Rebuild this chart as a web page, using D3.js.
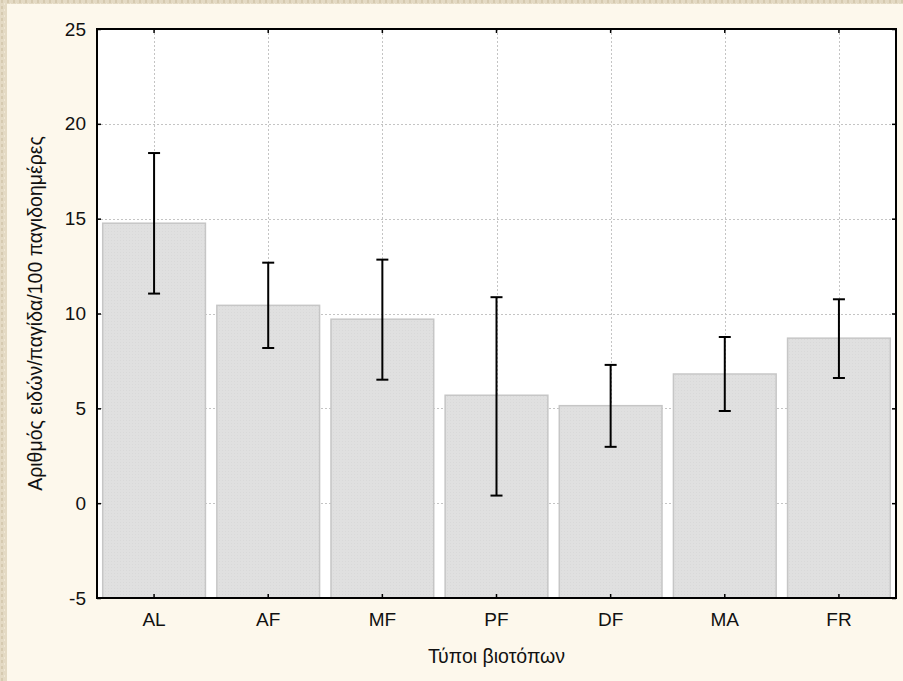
<!DOCTYPE html>
<html>
<head>
<meta charset="utf-8">
<script src="https://cdn.jsdelivr.net/npm/d3@7"></script>
<style>
  html, body { margin: 0; padding: 0; background: #fdf8ec; }
  svg { display: block; }
  text { font-family: "Liberation Sans", Arial, sans-serif; fill: #111; }
</style>
</head>
<body>
<svg id="chart" width="903" height="681"></svg>
<script>
// Habitat types
const categories = ["AL", "AF", "MF", "PF", "DF", "MA", "FR"];
// Mean number of species per trap per 100 trap-days
const means = [14.76, 10.43, 9.70, 5.69, 5.14, 6.81, 8.70];
// Confidence interval bounds
const lower = [11.05, 8.18, 6.51, 0.40, 2.97, 4.86, 6.60];
const upper = [18.46, 12.68, 12.84, 10.86, 7.29, 8.76, 10.75];
const yTicks = [-5, 0, 5, 10, 15, 20, 25];

const svg = d3.select("#chart");
const W = 903, H = 681;
const m = { left: 97, top: 29, right: 896, bottom: 598 };

// textured paper edge
const defs = svg.append("defs");
const pat = defs.append("pattern").attr("id", "paper")
  .attr("width", 6).attr("height", 6).attr("patternUnits", "userSpaceOnUse");
pat.append("rect").attr("width", 6).attr("height", 6).attr("fill", "#e4dac4");
pat.append("rect").attr("x", 1).attr("y", 0).attr("width", 2).attr("height", 3).attr("fill", "#d6cab0");
pat.append("rect").attr("x", 4).attr("y", 3).attr("width", 1).attr("height", 2).attr("fill", "#efe7d4");

const hatch = defs.append("pattern").attr("id", "hatch")
  .attr("width", 3).attr("height", 3).attr("patternUnits", "userSpaceOnUse");
hatch.append("rect").attr("width", 3).attr("height", 3).attr("fill", "#e0e0e0");
hatch.append("rect").attr("width", 1).attr("height", 1).attr("fill", "#d9d9d9");

svg.append("rect").attr("width", W).attr("height", H).attr("fill", "#fdf8ec");
svg.append("rect").attr("x", 0).attr("y", 0).attr("width", 7).attr("height", H).attr("fill", "url(#paper)");
svg.append("rect").attr("x", 0).attr("y", 0).attr("width", W).attr("height", 4).attr("fill", "url(#paper)");

const x = d3.scaleBand().domain(categories).range([m.left, m.right]).paddingInner(0.1).paddingOuter(0.05);
const y = d3.scaleLinear().domain([-5, 25]).range([m.bottom, m.top]);

// plot area
svg.append("rect").attr("x", m.left).attr("y", m.top)
  .attr("width", m.right - m.left).attr("height", m.bottom - m.top).attr("fill", "#fff");

// dotted grid
const grid = svg.append("g").attr("stroke", "#c4c4c4").attr("stroke-width", 1).attr("stroke-dasharray", "2,2");
grid.selectAll("line.h").data(yTicks.filter(t => t > -5 && t < 25)).join("line")
  .attr("x1", m.left).attr("x2", m.right)
  .attr("y1", d => Math.round(y(d)) + 0.5).attr("y2", d => Math.round(y(d)) + 0.5);
grid.selectAll("line.v").data(categories).join("line")
  .attr("y1", m.top).attr("y2", m.bottom)
  .attr("x1", d => Math.round(x(d) + x.bandwidth() / 2) + 0.5)
  .attr("x2", d => Math.round(x(d) + x.bandwidth() / 2) + 0.5);

// bars, rising from the bottom of the axis
svg.append("g").selectAll("rect").data(categories).join("rect")
  .attr("x", d => x(d))
  .attr("y", (d, i) => y(means[i]))
  .attr("width", x.bandwidth())
  .attr("height", (d, i) => y(-5) - y(means[i]))
  .attr("fill", "url(#hatch)")
  .attr("stroke", "#c6c6c6").attr("stroke-width", 1.5);

// error bars
const eb = svg.append("g").attr("stroke", "#000").attr("stroke-width", 2);
categories.forEach((c, i) => {
  const cx = x(c) + x.bandwidth() / 2;
  eb.append("line").attr("x1", cx).attr("x2", cx).attr("y1", y(upper[i])).attr("y2", y(lower[i]));
  eb.append("line").attr("x1", cx - 6).attr("x2", cx + 6).attr("y1", y(upper[i])).attr("y2", y(upper[i]));
  eb.append("line").attr("x1", cx - 6).attr("x2", cx + 6).attr("y1", y(lower[i])).attr("y2", y(lower[i]));
});

// axes with inward ticks
const fmt = d => String(d);
const axLeft = svg.append("g").attr("transform", `translate(${m.left},0)`)
  .call(d3.axisLeft(y).tickValues(yTicks).tickFormat(fmt).tickSizeInner(-4).tickSizeOuter(0).tickPadding(11));
const axRight = svg.append("g").attr("transform", `translate(${m.right},0)`)
  .call(d3.axisRight(y).tickValues(yTicks).tickFormat("").tickSizeInner(-4).tickSizeOuter(0));
const axBottom = svg.append("g").attr("transform", `translate(0,${m.bottom})`)
  .call(d3.axisBottom(x).tickSizeInner(-4).tickSizeOuter(0).tickPadding(15));
const axTop = svg.append("g").attr("transform", `translate(0,${m.top})`)
  .call(d3.axisTop(x).tickFormat("").tickSizeInner(-4).tickSizeOuter(0));
[axLeft, axRight, axBottom, axTop].forEach(g => {
  g.select(".domain").remove();
  g.selectAll(".tick line").attr("stroke", "#000").attr("stroke-width", 1.5);
  g.selectAll("text").attr("font-size", 19).attr("font-family", "Liberation Sans, Arial, sans-serif").attr("fill", "#111");
});

// frame
svg.append("rect").attr("x", m.left).attr("y", m.top)
  .attr("width", m.right - m.left).attr("height", m.bottom - m.top)
  .attr("fill", "none").attr("stroke", "#000").attr("stroke-width", 2);

// axis titles
svg.append("text").attr("x", (m.left + m.right) / 2).attr("y", 663)
  .attr("text-anchor", "middle").attr("font-size", 19.5).text("Τύποι βιοτόπων");
svg.append("text").attr("transform", `translate(42,${(m.top + m.bottom) / 2}) rotate(-90)`)
  .attr("text-anchor", "middle").attr("font-size", 19.5).text("Αριθμός ειδών/παγίδα/100 παγιδοημέρες");
</script>
</body>
</html>
